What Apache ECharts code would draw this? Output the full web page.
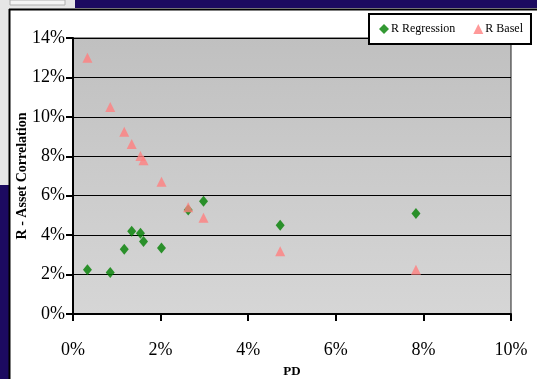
<!DOCTYPE html>
<html>
<head>
<meta charset="utf-8">
<script src="https://cdn.jsdelivr.net/npm/echarts@6/dist/echarts.min.js"></script>
<style>
  html, body { margin: 0; padding: 0; background: #ffffff; }
  #chart { width: 537px; height: 379px; }
</style>
</head>
<body>
<div id="chart"></div>
<script>
// Probability of default (%) for each portfolio bucket
const pd = [0.33, 0.85, 1.17, 1.34, 1.54, 1.61, 2.02, 2.63, 2.98, 4.73, 7.83];
// Asset correlation (%) estimated by regression
const rRegression = [2.25, 2.10, 3.28, 4.20, 4.10, 3.68, 3.35, 5.28, 5.72, 4.50, 5.10];
// Asset correlation (%) from the Basel formula
const rBasel = [13.0, 10.5, 9.25, 8.62, 8.02, 7.80, 6.71, 5.41, 4.88, 3.18, 2.25];
// Axis tick values
const xTicks = [0, 2, 4, 6, 8, 10];
const yTicks = [0, 2, 4, 6, 8, 10, 12, 14];

const serif = '"Liberation Serif", "DejaVu Serif", serif';

const chart = echarts.init(document.getElementById('chart'), null, { renderer: 'canvas' });

const toPairs = ys => pd.map((x, i) => [x, ys[i]]);

chart.setOption({
  animation: false,
  backgroundColor: '#ffffff',
  graphic: [
    // window frame around the chart
    { type: 'rect', shape: { x: 0, y: 0, width: 537, height: 9 }, style: { fill: '#e6e6e6' }, z: -10 },
    { type: 'rect', shape: { x: 75, y: 0, width: 462, height: 8 }, style: { fill: '#1c0a60' }, z: -9 },
    { type: 'rect', shape: { x: 10, y: 0, width: 55, height: 5 }, style: { fill: '#f4f4f4', stroke: '#b0b0b0', lineWidth: 1 }, z: -9 },
    { type: 'rect', shape: { x: 0, y: 9, width: 9, height: 176 }, style: { fill: '#e6e6e6' }, z: -10 },
    { type: 'rect', shape: { x: 0, y: 185, width: 9, height: 194 }, style: { fill: '#1c0a60' }, z: -10 },
    { type: 'line', shape: { x1: 9, y1: 9.5, x2: 537, y2: 9.5 }, style: { stroke: '#000', lineWidth: 2 }, z: -8 },
    { type: 'line', shape: { x1: 9.5, y1: 9, x2: 9.5, y2: 379 }, style: { stroke: '#000', lineWidth: 2 }, z: -8 }
  ],
  grid: {
    left: 73, top: 38, right: 26, bottom: 65,
    outerBoundsMode: 'none',
    containLabel: false,
    show: true,
    borderColor: '#222',
    borderWidth: 1,
    backgroundColor: new echarts.graphic.LinearGradient(0, 0, 0, 1, [
      { offset: 0, color: '#c0c0c0' },
      { offset: 1, color: '#d6d6d6' }
    ])
  },
  legend: {
    left: 369, top: 14,
    padding: [9, 8, 9, 10],
    itemGap: 18,
    itemWidth: 10, itemHeight: 10,
    backgroundColor: '#ffffff',
    borderColor: '#000',
    borderWidth: 2,
    textStyle: { fontFamily: serif, fontSize: 12, color: '#000', padding: [0, 0, 0, -3] },
    data: [
      { name: 'R Regression', icon: 'diamond' },
      { name: 'R Basel', icon: 'triangle' }
    ]
  },
  xAxis: {
    type: 'value',
    min: 0, max: 10, interval: 2,
    name: 'PD',
    nameLocation: 'middle',
    nameMoveOverlap: false,
    nameGap: 51,
    nameTextStyle: { fontFamily: serif, fontSize: 13, fontWeight: 'bold', color: '#000' },
    axisLine: { show: true, onZero: false, lineStyle: { color: '#000', width: 2 } },
    axisTick: { show: true, length: 7, lineStyle: { color: '#000', width: 2 } },
    axisLabel: {
      margin: 27,
      fontFamily: serif, fontSize: 18, color: '#000',
      formatter: v => xTicks.includes(v) ? v + '%' : ''
    },
    splitLine: { show: false }
  },
  yAxis: {
    type: 'value',
    min: 0, max: 14, interval: 2,
    name: 'R - Asset Correlation',
    nameLocation: 'middle',
    nameMoveOverlap: false,
    nameGap: 44,
    nameTextStyle: { fontFamily: serif, fontSize: 14, fontWeight: 'bold', color: '#000' },
    axisLine: { show: true, lineStyle: { color: '#000', width: 2 } },
    axisTick: { show: true, length: 7, lineStyle: { color: '#000', width: 2 } },
    axisLabel: {
      margin: 8,
      fontFamily: serif, fontSize: 18, color: '#000',
      formatter: v => yTicks.includes(v) ? v + '%' : ''
    },
    splitLine: { show: true, lineStyle: { color: '#000', width: 1 } }
  },
  series: [
    {
      name: 'R Regression',
      type: 'scatter',
      symbol: 'diamond',
      symbolSize: [9, 11],
      itemStyle: { color: '#008000' },
      data: toPairs(rRegression),
      z: 2
    },
    {
      name: 'R Basel',
      type: 'scatter',
      symbol: 'triangle',
      symbolSize: [10, 10],
      itemStyle: { color: '#ff8080' },
      data: toPairs(rBasel),
      z: 3
    }
  ]
});
</script>
</body>
</html>
